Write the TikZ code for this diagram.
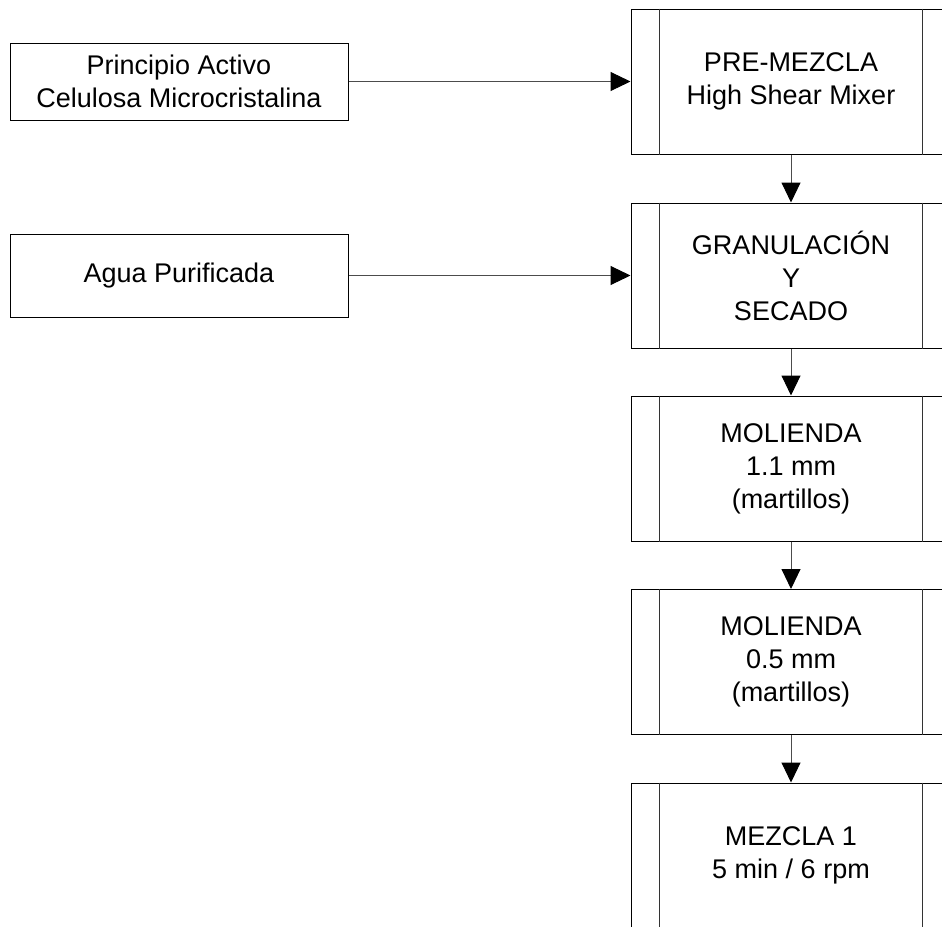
\documentclass[tikz,border=0pt]{standalone}
\usepackage{fontspec}
\setmainfont{Liberation Sans}
\usetikzlibrary{arrows.meta}
\begin{document}
\begin{tikzpicture}[x=1pt,y=-1pt,
  every node/.style={font=\fontsize{27}{33}\selectfont, align=center, inner sep=0pt},
  inbox/.style={draw=black, line width=1pt, minimum width=338pt},
  procbox/.style={draw=black, line width=1pt, minimum width=320pt, minimum height=145pt},
  flow/.style={draw=black!70, line width=1pt, -{Triangle[length=20pt,width=19pt,fill=black,color=black]}}]
  \useasboundingbox (0,0) rectangle (942,926);
  \clip (0,0) rectangle (942,926);

  % input materials
  \node[inbox, minimum height=77pt] (pa) at (179,81.5) {Principio Activo\\Celulosa Microcristalina};
  \node[inbox, minimum height=83pt] (agua) at (179,275.5) {Agua Purificada};

  % process steps (predefined-process boxes)
  \node[procbox] (p1) at (791,81.5)  {PRE-MEZCLA\\High Shear Mixer};
  \node[procbox] (p2) at (791,275.5) {GRANULACIÓN\\Y\\SECADO};
  \node[procbox] (p3) at (791,468.5) {MOLIENDA\\1.1 mm\\(martillos)};
  \node[procbox] (p4) at (791,662)   {MOLIENDA\\0.5 mm\\(martillos)};
  \node[procbox] (p5) at (791,855.5) {MEZCLA 1\\5 min / 6 rpm};

  % inner side bars of the process boxes
  \foreach \n in {p1,p2,p3,p4,p5}{
    \draw[black!80, line width=1pt] ([xshift=29pt]\n.north west) -- ([xshift=29pt]\n.south west);
    \draw[black!80, line width=1pt] ([xshift=-29pt]\n.north east) -- ([xshift=-29pt]\n.south east);
  }

  % connectors
  \draw[flow] (pa.east) -- (p1.west);
  \draw[flow] (agua.east) -- (p2.west);
  \draw[flow] (p1.south) -- (p2.north);
  \draw[flow] (p2.south) -- (p3.north);
  \draw[flow] (p3.south) -- (p4.north);
  \draw[flow] (p4.south) -- (p5.north);
\end{tikzpicture}
\end{document}
